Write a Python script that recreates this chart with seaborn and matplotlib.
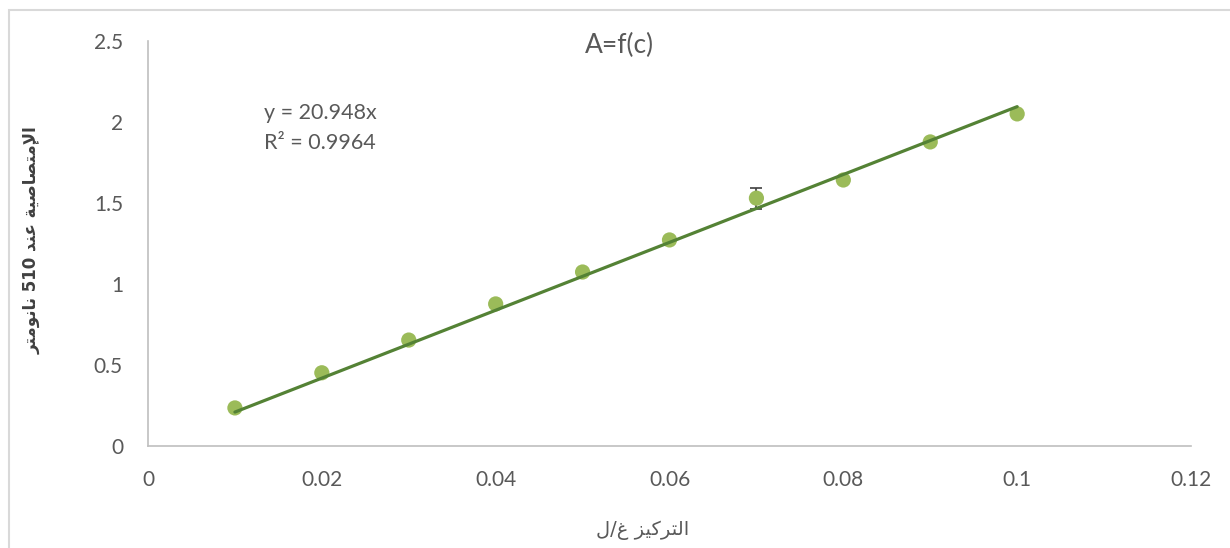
import numpy as np
import pandas as pd
import matplotlib
matplotlib.use('Agg')
import matplotlib.pyplot as plt
from matplotlib.patches import Rectangle
import seaborn as sns

# data
conc = [0.01, 0.02, 0.03, 0.04, 0.05, 0.06, 0.07, 0.08, 0.09, 0.10]
absorb = [0.235, 0.452, 0.654, 0.877, 1.074, 1.272, 1.530, 1.642, 1.877, 2.050]
err_x = [0.07]
err_y = [1.530]
err_size = [0.065]
slope = 20.948
r2 = 0.9964
x_ticks = [0, 0.02, 0.04, 0.06, 0.08, 0.1, 0.12]
x_tick_labels = ['0', '0.02', '0.04', '0.06', '0.08', '0.1', '0.12']
y_ticks = [0, 0.5, 1, 1.5, 2, 2.5]
y_tick_labels = ['0', '0.5', '1', '1.5', '2', '2.5']
title = 'A=f(c)'
x_label = 'التركيز غ/ل'
y_label = 'الإمتصاصية عند 510 نانومتر'

# minimal arabic shaping (matplotlib has no bidi/shaping)
AR = {
    'ا': ('\uFE8D', '\uFE8E', None, None),
    'إ': ('\uFE87', '\uFE88', None, None),
    'ل': ('\uFEDD', '\uFEDE', '\uFEDF', '\uFEE0'),
    'ت': ('\uFE95', '\uFE96', '\uFE97', '\uFE98'),
    'ر': ('\uFEAD', '\uFEAE', None, None),
    'ز': ('\uFEAF', '\uFEB0', None, None),
    'ك': ('\uFED9', '\uFEDA', '\uFEDB', '\uFEDC'),
    'ي': ('\uFEF1', '\uFEF2', '\uFEF3', '\uFEF4'),
    'غ': ('\uFECD', '\uFECE', '\uFECF', '\uFED0'),
    'م': ('\uFEE1', '\uFEE2', '\uFEE3', '\uFEE4'),
    'ص': ('\uFEB9', '\uFEBA', '\uFEBB', '\uFEBC'),
    'ة': ('\uFE93', '\uFE94', None, None),
    'ع': ('\uFEC9', '\uFECA', '\uFECB', '\uFECC'),
    'ن': ('\uFEE5', '\uFEE6', '\uFEE7', '\uFEE8'),
    'د': ('\uFEA9', '\uFEAA', None, None),
    'و': ('\uFEED', '\uFEEE', None, None),
}
LAM_ALEF = {'ا': ('\uFEFB', '\uFEFC'), 'إ': ('\uFEF9', '\uFEFA')}


def shape_word(word):
    chars = []
    i = 0
    while i < len(word):
        if word[i] == 'ل' and i + 1 < len(word) and word[i + 1] in LAM_ALEF:
            chars.append(('LA', word[i + 1]))
            i += 2
        else:
            chars.append((word[i], None))
            i += 1
    out = []
    for k, (c, extra) in enumerate(chars):
        prev = chars[k - 1][0] if k > 0 else None
        nxt = chars[k + 1][0] if k + 1 < len(chars) else None
        join_prev = prev in AR and AR[prev][2] is not None
        if c == 'LA':
            out.append(LAM_ALEF[extra][1 if join_prev else 0])
            continue
        if c not in AR:
            out.append(c)
            continue
        iso, fin, ini, med = AR[c]
        join_next = ini is not None and (nxt in AR or nxt == 'LA')
        if join_prev and join_next:
            out.append(med)
        elif join_prev:
            out.append(fin)
        elif join_next:
            out.append(ini)
        else:
            out.append(iso)
    return ''.join(reversed(out))


def visual(text):
    toks = []
    for t in text.split(' '):
        toks.append(shape_word(t) if any(ch in AR for ch in t) else t)
    return ' '.join(reversed(toks))


sns.set_style('white')
plt.rcParams['font.family'] = ['Lato', 'DejaVu Sans']

df = pd.DataFrame({'c': conc, 'A': absorb})
trend = pd.DataFrame({'c': [conc[0], conc[-1]]})
trend['A'] = slope * trend['c']

fig = plt.figure(figsize=(12.3, 5.48), dpi=100)
ax = fig.add_axes([148 / 1230, 102 / 548, 1043 / 1230, 405 / 548])

ax.errorbar(err_x, err_y, yerr=err_size, fmt='none', ecolor='#404040',
            elinewidth=1.2, capsize=4, capthick=1.2, zorder=2)
sns.scatterplot(data=df, x='c', y='A', ax=ax, s=120, color='#9BBB59',
                edgecolor='none', zorder=3)
sns.lineplot(data=trend, x='c', y='A', ax=ax, color='#548235', linewidth=2.3,
             zorder=4)

ax.set_xlim(0, 0.12)
ax.set_ylim(0, 2.5)
ax.set_xticks(x_ticks)
ax.set_xticklabels(x_tick_labels)
ax.set_yticks(y_ticks)
ax.set_yticklabels(y_tick_labels)
ax.tick_params(axis='both', length=0, labelsize=15, labelcolor='#595959')
ax.tick_params(axis='x', pad=17)
ax.tick_params(axis='y', pad=18)
for side in ['top', 'right']:
    ax.spines[side].set_visible(False)
for side in ['left', 'bottom']:
    ax.spines[side].set_color('#BFBFBF')
    ax.spines[side].set_linewidth(1.2)
ax.set_xlabel('')
ax.set_ylabel('')

ax.text(0.4525, 0.99, title, transform=ax.transAxes, ha='center', va='center',
        fontsize=19, color='#595959')
ax.text(0.0133, 2.056, f'y = {slope}x', fontsize=15.5, color='#595959',
        va='center', ha='left')
ax.text(0.0133, 1.87, f'R² = {r2}', fontsize=15.5, color='#595959',
        va='center', ha='left')

fig.text(643 / 1230, 1 - 530 / 548, visual(x_label), ha='center', va='center',
         fontsize=14, color='#595959', family='DejaVu Sans')
fig.text(32 / 1230, 1 - 240 / 548, visual(y_label), ha='center', va='center',
         rotation=90, fontsize=12, fontweight='bold', color='#404040',
         family='DejaVu Sans')

fig.patches.append(Rectangle((8.5 / 1230, -0.1), 1.2, 1.1 - 9.5 / 548,
                             transform=fig.transFigure, fill=False,
                             edgecolor='#D9D9D9', linewidth=1.5))

fig.savefig('out.png', dpi=100)
